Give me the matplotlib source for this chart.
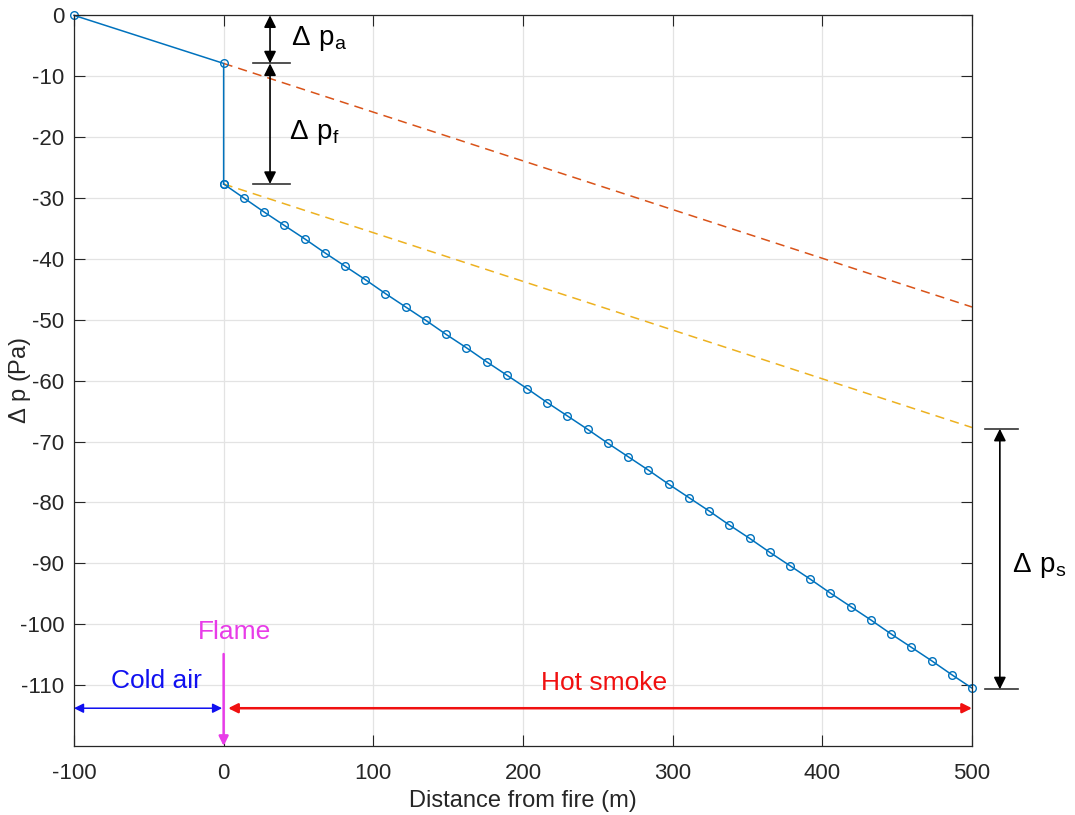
import matplotlib
matplotlib.use("Agg")
import matplotlib.pyplot as plt

plt.rcParams['font.family'] = ['Liberation Sans', 'DejaVu Sans']
plt.rcParams['mathtext.default'] = 'regular'
plt.rcParams['axes.unicode_minus'] = False

# cold air section and flame jump at x = 0
air_x = [-100, 0, 0]
air_p = [0.0, -7.9, -27.7]

# hot smoke section downstream of the fire
smoke_x = [0.0, 13.5, 27.0, 40.5, 54.1, 67.6, 81.1, 94.6, 108.1, 121.6,
           135.1, 148.6, 162.2, 175.7, 189.2, 202.7, 216.2, 229.7, 243.2,
           256.8, 270.3, 283.8, 297.3, 310.8, 324.3, 337.8, 351.4, 364.9,
           378.4, 391.9, 405.4, 418.9, 432.4, 445.9, 459.5, 473.0, 486.5, 500.0]
smoke_p = [-27.7, -30.0, -32.3, -34.5, -36.7, -39.0, -41.2, -43.4, -45.7,
           -47.9, -50.1, -52.4, -54.6, -56.9, -59.1, -61.3, -63.6, -65.8,
           -68.0, -70.3, -72.5, -74.7, -77.0, -79.2, -81.4, -83.7, -85.9,
           -88.2, -90.4, -92.6, -94.9, -97.1, -99.3, -101.6, -103.8, -106.0,
           -108.3, -110.5]

# cold-air gradient continued from both ends of the flame jump
ext_x = [0, 500]
ext_top = [-7.9, -47.9]
ext_bot = [-27.7, -67.7]

blue = '#0072BD'
fig = plt.figure(figsize=(10.75, 8.15), dpi=100)
ax = fig.add_axes([0.0688, 0.0847, 0.8354, 0.8965])

ax.plot(ext_x, ext_top, '--', color='#D95319', lw=1.1, dashes=(6, 4))
ax.plot(ext_x, ext_bot, '--', color='#EDB120', lw=1.1, dashes=(6, 4))
ax.plot(air_x, air_p, '-o', color=blue, lw=1.1, ms=5.5, mfc='none', mew=1.0,
        clip_on=False)
ax.plot(smoke_x, smoke_p, '-o', color=blue, lw=1.1, ms=5.5, mfc='none', mew=1.0,
        clip_on=False)

ax.set_xlim(-100, 500)
ax.set_ylim(-120, 0)
ax.set_xticks(range(-100, 501, 100))
ax.set_yticks(range(-110, 1, 10))
ax.grid(True, color='#e3e3e3', lw=0.9)
ax.set_axisbelow(True)
ax.tick_params(direction='in', top=True, right=True, length=8, width=0.8,
               labelsize=16, colors='#262626')
ax.tick_params(axis='x', pad=12)
ax.tick_params(axis='y', pad=7)
for s in ax.spines.values():
    s.set_color('#262626')
    s.set_linewidth(0.9)

ax.set_xlabel('Distance from fire (m)', fontsize=17, color='#262626')
ax.set_ylabel(r'$\Delta$ p (Pa)', fontsize=17, color='#262626')
ax.xaxis.set_label_coords(0.5, -0.06)
ax.yaxis.set_label_coords(-0.046, 0.5)


def span(x, y0, y1, bars, bar_x):
    # double-headed arrow between two pressure levels, with end bars
    ax.annotate('', xy=(x, y1), xytext=(x, y0),
                arrowprops=dict(arrowstyle='<|-|>', color='black', lw=1.2,
                                shrinkA=0, shrinkB=0, mutation_scale=18),
                annotation_clip=False)
    for y in bars:
        ax.plot(bar_x, [y, y], color='#333333', lw=1.2, clip_on=False)


span(31, 0, -7.9, [-7.9], [19.6, 44.3])
span(31, -7.9, -27.7, [-27.7], [19.6, 44.3])
span(518.6, -67.9, -110.7, [-67.9, -110.7], [508.5, 530.6])

ax.text(45, -3.8, r'$\Delta\ p_a$', fontsize=20, va='center', ha='left')
ax.text(44, -19.3, r'$\Delta\ p_f$', fontsize=20, va='center', ha='left')
ax.text(527, -90.3, r'$\Delta\ p_s$', fontsize=20, va='center', ha='left',
        clip_on=False)

# zone markers along the bottom
ax.annotate('', xy=(-1, -113.8), xytext=(-100, -113.8),
            arrowprops=dict(arrowstyle='<|-|>', color='#1010f0', lw=1.1,
                            shrinkA=0, shrinkB=0, mutation_scale=14))
ax.annotate('', xy=(500, -113.8), xytext=(3, -113.8),
            arrowprops=dict(arrowstyle='<|-|>', color='#f01010', lw=1.8,
                            shrinkA=0, shrinkB=0, mutation_scale=14))
ax.annotate('', xy=(0, -120), xytext=(0, -104.9),
            arrowprops=dict(arrowstyle='-|>', color='#e83ce8', lw=1.8,
                            shrinkA=0, shrinkB=0, mutation_scale=14),
            annotation_clip=False)
ax.text(-45.2, -109.4, 'Cold air', color='#1010f0', fontsize=19,
        ha='center', va='center')
ax.text(254, -109.6, 'Hot smoke', color='#f01010', fontsize=19,
        ha='center', va='center')
ax.text(7.5, -101.2, 'Flame', color='#e83ce8', fontsize=19,
        ha='center', va='center')

fig.savefig('out.png', dpi=100)
